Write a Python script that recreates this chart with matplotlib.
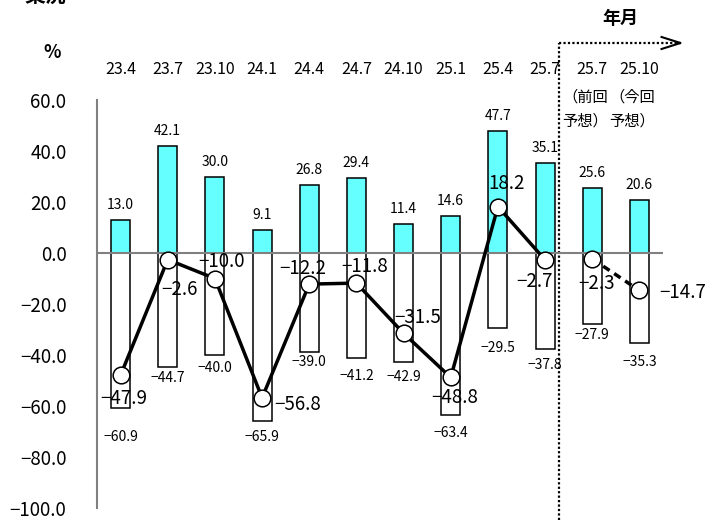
import matplotlib
matplotlib.use("Agg")
import matplotlib.pyplot as plt
from matplotlib.lines import Line2D
import matplotlib.transforms as mtransforms

plt.rcParams['font.family'] = ['Noto Sans CJK JP', 'DejaVu Sans']

# ---- data ----
categories = ['23.4', '23.7', '23.10', '24.1', '24.4', '24.7', '24.10', '25.1',
              '25.4', '25.7', '25.7', '25.10']
sub_labels = {10: '（前回\n予想）', 11: '（今回\n予想）'}
positive_vals = [13.0, 42.1, 30.0, 9.1, 26.8, 29.4, 11.4, 14.6, 47.7, 35.1, 25.6, 20.6]
negative_vals = [-60.9, -44.7, -40.0, -65.9, -39.0, -41.2, -42.9, -63.4, -29.5, -37.8, -27.9, -35.3]
di_actual = [-47.9, -2.6, -10.0, -56.8, -12.2, -11.8, -31.5, -48.8, 18.2, -2.7]
di_forecast = [-2.3, -14.7]
yticks = [60, 40, 20, 0, -20, -40, -60, -80, -100]

# ---- layout / style (pixel offsets of labels) ----
line_label_off = [(3, 23), (12, 30), (7, -17), (36, 7), (-6, -16), (8, -17), (14, -16),
                  (4, 20), (9, -23), (-11, 22), (4, 25), (43, 2)]
neg_label_off = [29, 11, 13, 16, 10, 18, 15, 18, 20, 16, 11, 19]
pos_label_off = 15

W, H = 707, 520
fig = plt.figure(figsize=(W / 100, H / 100), dpi=100)
ax = fig.add_axes([97 / W, 1 - 508 / H, (663 - 97) / W, (508 - 100) / H])

def fmt(v):
    s = f"{v:.1f}"
    return s.replace('-', '−')

x = list(range(len(categories)))
bw = 0.4
ax.bar(x, positive_vals, width=bw, color='#66FFFF', edgecolor='black', linewidth=1.1, zorder=2)
ax.bar(x, negative_vals, width=bw, color='white', edgecolor='black', linewidth=1.1, zorder=2)
ax.axhline(0, color='#808080', linewidth=1.5, zorder=3)

n_act = len(di_actual)
ax.plot(x[:n_act], di_actual, color='black', linewidth=2.5, zorder=4,
        marker='o', markersize=12, markerfacecolor='white', markeredgecolor='black',
        markeredgewidth=1.1)
ax.plot(x[n_act:], di_forecast, color='black', linewidth=2.5, linestyle=(0, (2.2, 1.6)),
        zorder=4, marker='o', markersize=12, markerfacecolor='white',
        markeredgecolor='black', markeredgewidth=1.1)

k = 0.72  # px -> pt
for i, (v, off) in enumerate(zip(di_actual + di_forecast, line_label_off)):
    ax.annotate(fmt(v), (x[i], v), xytext=(off[0] * k, -off[1] * k), textcoords='offset points',
                ha='center', va='center', fontsize=13.5, zorder=5)

for i, v in enumerate(positive_vals):
    ax.annotate(fmt(v), (x[i], v), xytext=(0, pos_label_off * k), textcoords='offset points',
                ha='center', va='center', fontsize=10)
for i, v in enumerate(negative_vals):
    ax.annotate(fmt(v), (x[i], v), xytext=(0, -neg_label_off[i] * k), textcoords='offset points',
                ha='center', va='center', fontsize=10)

ax.set_xlim(-0.5, 11.5)
ax.set_ylim(-100, 60)
ax.set_yticks(yticks)
ax.set_yticklabels([fmt(float(t)) for t in yticks], fontsize=13.5)
ax.tick_params(axis='y', length=0, pad=22)
ax.set_xticks([])
for s in ['top', 'right', 'bottom']:
    ax.spines[s].set_visible(False)
ax.spines['left'].set_color('#808080')
ax.spines['left'].set_linewidth(1.5)

# category labels above the plot
trans = mtransforms.blended_transform_factory(ax.transData, fig.transFigure)
for i, c in enumerate(categories):
    ax.text(x[i], 1 - 70 / H, c, transform=trans, ha='center', va='center', fontsize=11.5)
for i, s in sub_labels.items():
    ax.text(x[i] - 0.15, 1 - 109 / H, s, transform=trans, ha='center', va='center',
            fontsize=11, linespacing=1.5)

# dotted divider with arrow
xd = (560 - 120.5) / 47.3
xa = (682 - 120.5) / 47.3
xh = (663 - 120.5) / 47.3
y_top = 1 - 43 / H
ax.add_line(Line2D([xd, xd], [0, y_top], transform=trans, color='black', linewidth=1.6,
                   linestyle=(0, (1, 1)), clip_on=False))
ax.add_line(Line2D([xd, xa], [y_top, y_top], transform=trans, color='black', linewidth=1.6,
                   linestyle=(0, (1, 1)), clip_on=False))
ax.add_line(Line2D([xh, xa, xh], [1 - 37 / H, y_top, 1 - 49 / H], transform=trans,
                   color='black', linewidth=1.5, clip_on=False))

fig.text(620 / W, 1 - 18 / H, '年月', ha='center', va='center', fontsize=13, fontweight='bold')
fig.text(52 / W, 1 - 52 / H, '%', ha='center', va='center', fontsize=13, fontweight='bold')
fig.text(45 / W, 1 + 4 / H, '業況', ha='center', va='center', fontsize=15, fontweight='bold')

fig.savefig('out.png', dpi=100)
